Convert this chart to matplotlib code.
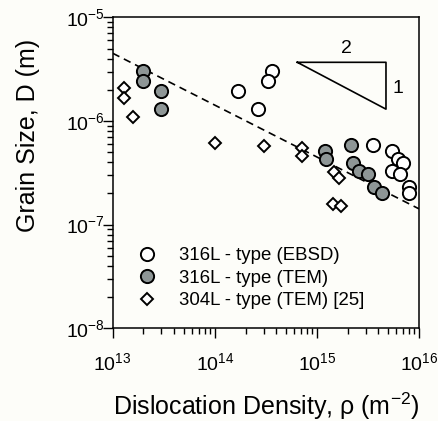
import matplotlib
matplotlib.use("Agg")
import matplotlib.pyplot as plt

plt.rcParams["font.family"] = ["Liberation Sans", "DejaVu Sans"]
plt.rcParams["mathtext.fontset"] = "custom"
plt.rcParams["mathtext.rm"] = "Liberation Sans"
plt.rcParams["mathtext.default"] = "regular"

# 316L - type, grain size from EBSD
ebsd_rho = [1.70e14, 2.67e14, 3.61e14, 3.34e14, 3.57e15, 5.48e15,
            6.27e15, 7.02e15, 5.41e15, 6.52e15, 8.04e15, 8.04e15]
ebsd_D = [1.96e-6, 1.30e-6, 3.03e-6, 2.45e-6, 5.86e-7, 5.16e-7,
          4.27e-7, 3.91e-7, 3.31e-7, 3.06e-7, 2.32e-7, 2.01e-7]

# 316L - type, TEM
tem_rho = [2.0e13, 2.0e13, 2.97e13, 2.97e13, 1.20e15, 1.22e15,
           2.14e15, 2.24e15, 2.60e15, 3.19e15, 3.62e15, 4.31e15]
tem_D = [3.03e-6, 2.45e-6, 1.96e-6, 1.30e-6, 5.16e-7, 4.27e-7,
         5.86e-7, 3.91e-7, 3.31e-7, 3.06e-7, 2.32e-7, 2.03e-7]

# 304L - type, TEM [25]
ref_rho = [1.29e13, 1.29e13, 1.59e13, 1.0e14, 3.03e14, 7.1e14,
           7.1e14, 1.47e15, 1.66e15, 1.43e15, 1.71e15]
ref_D = [2.07e-6, 1.66e-6, 1.10e-6, 6.17e-7, 5.74e-7, 5.45e-7,
         4.59e-7, 3.24e-7, 2.84e-7, 1.58e-7, 1.51e-7]

# dashed D ~ rho^-1/2 line (end points)
fit_rho = [1e13, 1e16]
fit_D = [4.5e-6, 1.42e-7]

# slope triangle (2 : 1)
tri_rho = [6.43e14, 4.75e15, 4.75e15, 6.43e14]
tri_D = [3.68e-6, 3.68e-6, 1.30e-6, 3.68e-6]

GRAY = "#8e9696"
BG = "#fdfdf9"

fig = plt.figure(figsize=(4.38, 4.21), dpi=100, facecolor=BG)
ax = fig.add_axes([0.2573, 0.2202, 0.6993, 0.7387], facecolor=BG)

ax.plot(fit_rho, fit_D, color="k", lw=1.2, ls=(0, (4.5, 3.0)), zorder=1)
ax.plot(tri_rho, tri_D, color="k", lw=1.2, zorder=1)
ax.text(1.96e15, 5.02e-6, "2", fontsize=14, ha="center", va="center")
ax.text(6.27e15, 2.07e-6, "1", fontsize=14, ha="center", va="center")

mk = dict(ls="none", mec="k", mew=1.4)
ax.plot(ebsd_rho, ebsd_D, marker="o", ms=9.5, mfc="white",
        label="316L - type (EBSD)", zorder=3, **mk)
ax.plot(tem_rho, tem_D, marker="o", ms=9.5, mfc=GRAY,
        label="316L - type (TEM)", zorder=3, **mk)
ax.plot(ref_rho, ref_D, marker="D", ms=6.4, mfc="white",
        label="304L - type (TEM) [25]", zorder=3, **mk)

ax.set_xscale("log")
ax.set_yscale("log")
ax.set_xlim(1e13, 1e16)
ax.set_ylim(1e-8, 1e-5)

for s in ax.spines.values():
    s.set_linewidth(1.1)
ax.tick_params(which="both", direction="out", top=False, right=False,
               width=1.0, labelsize=14)
ax.tick_params(which="major", length=7)
ax.tick_params(which="minor", length=4.5)
ax.tick_params(axis="x", which="major", pad=10)
ax.tick_params(axis="y", which="major", pad=-1.5)

leg = ax.legend(loc="center left", bbox_to_anchor=(0.0816, 0.161),
                frameon=False, fontsize=13.4, handlelength=1.0,
                handletextpad=1.22, labelspacing=0.3, borderpad=0,
                borderaxespad=0)

fig.text(266 / 438, (421 - 414.5) / 421, r"Dislocation Density, ρ (m$^{-2}$)",
         fontsize=18, ha="center", va="baseline")
fig.text(35 / 438, (421 - 135) / 421, "Grain Size, D (m)", fontsize=18,
         rotation=90, rotation_mode="anchor", ha="center", va="baseline")

fig.savefig("out.png", dpi=100, facecolor=BG)
